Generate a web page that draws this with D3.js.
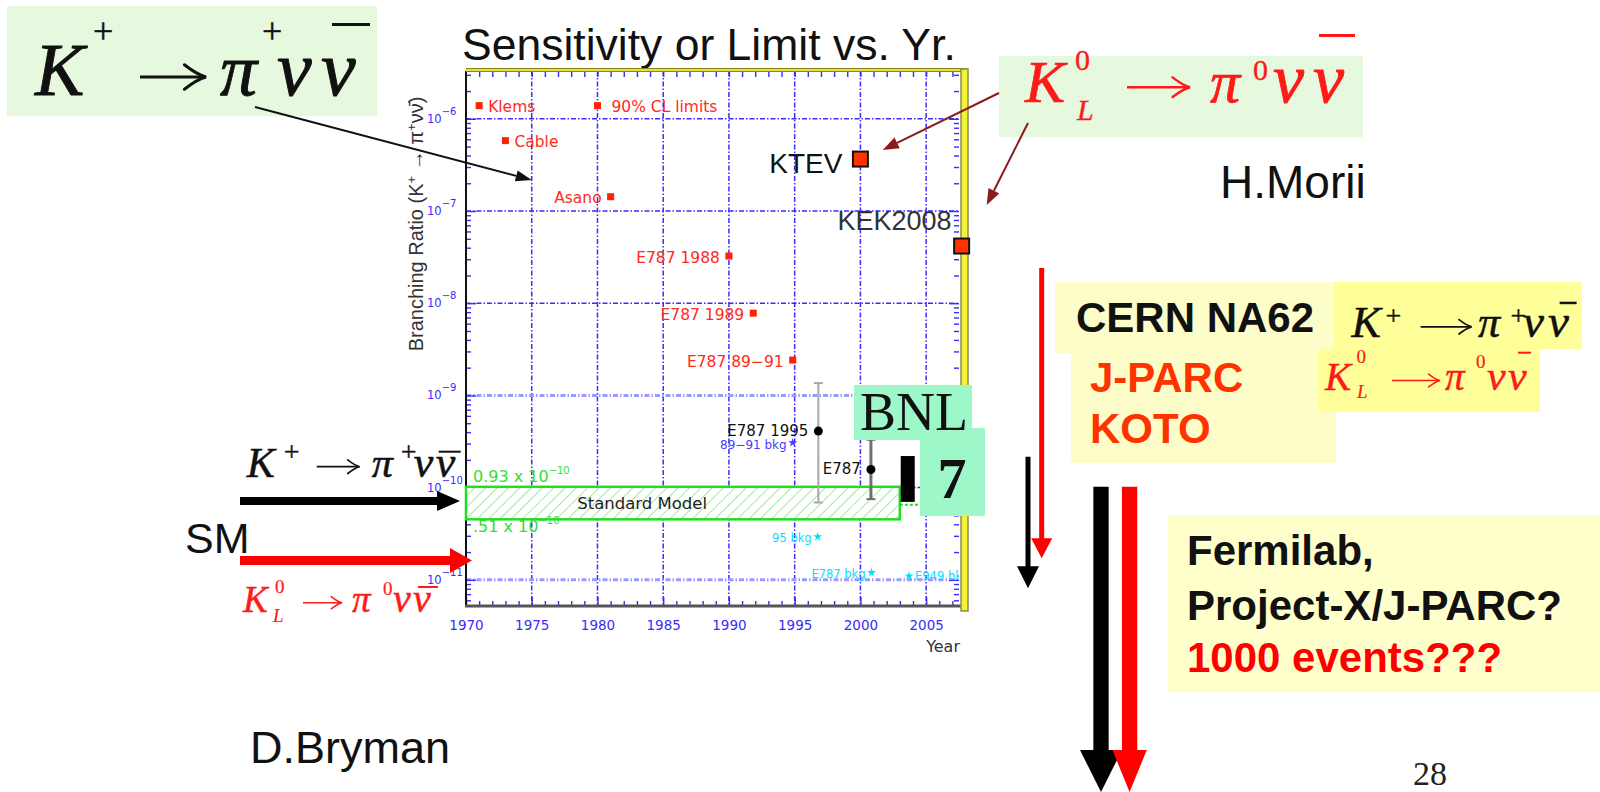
<!DOCTYPE html>
<html><head><meta charset="utf-8">
<script src="https://cdn.jsdelivr.net/npm/d3@7"></script>
<style>body{margin:0;background:#fff} svg{display:block}</style>
</head><body><svg id="c" width="1600" height="792"></svg>
<script>
// ---------------- data ----------------
const yearTicks = [1970, 1975, 1980, 1985, 1990, 1995, 2000, 2005];
const decadeExps = [-6, -7, -8, -9, -10, -11];

const limitNames  = ["Klems", "Cable", "Asano", "E787 1988", "E787 1989", "E787 89−91"];
const limitYears  = [1971.0, 1973.0, 1981.0, 1990.0, 1991.85, 1994.85];
const limitValues = [1.39e-6, 5.8e-7, 1.43e-7, 3.25e-8, 7.8e-9, 2.42e-9];
const limitSide   = ["right", "right", "left", "left", "left", "left"];
const legendText  = "90% CL limits";

const measNames  = ["E787 1995", "E787"];
const measYears  = [1996.8, 2000.8];
const measValues = [4.1e-10, 1.57e-10];
const measLow    = [6.9e-11, 7.5e-11];
const measHigh   = [1.36e-9, 3.3e-10];

const bkgNames  = ["89−91 bkg", "95 bkg", "E787 bkg", "E949 bkg"];
const bkgYears  = [1994.85, 1996.75, 2000.85, 2003.7];
const bkgValues = [3.07e-10, 2.93e-11, 1.2e-11, 1.1e-11];

const klNames  = ["KTEV", "KEK2008"];
const klYears  = [2000.0, 2007.7];
const klValues = [3.66e-7, 4.17e-8];

const smYears = [1970, 2003];
const smRange = [4.53e-11, 1.02e-10];
const smTopLabel = "0.93 x 10", smBottomLabel = ".51 x 10", smExp = "−10";
const smTail = [2003, 2004.7, 6.5e-11];

const bnlYear = 2003.6;
const bnlRange = [7.0e-11, 2.2e-10];

// ---------------- setup ----------------
const SANS = "'Liberation Sans', Arial, Helvetica, sans-serif";
const PLOT = "'DejaVu Sans', Verdana, sans-serif";
const SERIF = "'Liberation Serif', 'Times New Roman', serif";
const BLUE = "#3a2aff";

const svg = d3.select('#c');
svg.append('rect').attr('width', 1600).attr('height', 792).attr('fill', '#fff');

const x = d3.scaleLinear().domain([1970, 2007.5]).range([466, 959]);
const y = d3.scaleLog().domain([5.2e-12, 3.3e-6]).range([606, 71]);
const [X0, X1] = x.range();
const [Y0, Y1] = y.range();   // Y0 bottom, Y1 top

const defs = svg.append('defs');
const pat = defs.append('pattern').attr('id', 'hatch').attr('width', 8).attr('height', 8)
  .attr('patternUnits', 'userSpaceOnUse').attr('patternTransform', 'rotate(45)');
pat.append('rect').attr('width', 8).attr('height', 8).attr('fill', '#fff');
pat.append('line').attr('x1', 0).attr('y1', 0).attr('x2', 0).attr('y2', 8)
  .attr('stroke', '#6fdc6f').attr('stroke-width', 1.3);
defs.append('clipPath').attr('id', 'plotclip').append('rect')
  .attr('x', X0).attr('y', Y1).attr('width', X1 - X0).attr('height', Y0 - Y1);

// title
svg.append('text').attr('x', 462).attr('y', 60).attr('font-family', SANS)
  .attr('font-size', 44.5).attr('fill', '#111').text('Sensitivity or Limit vs. Yr.');

// ---------------- grid ----------------
const grid = svg.append('g');
grid.selectAll('line.v').data(yearTicks.slice(1)).join('line')
  .attr('x1', d => x(d)).attr('x2', d => x(d)).attr('y1', Y1).attr('y2', Y0)
  .attr('stroke', BLUE).attr('stroke-width', 1.5).attr('stroke-dasharray', '5,2,1.5,2');
grid.selectAll('line.h').data(decadeExps).join('line')
  .attr('x1', X0).attr('x2', X1).attr('y1', d => y(Math.pow(10, d))).attr('y2', d => y(Math.pow(10, d)))
  .attr('stroke', d => (d === -9 || d === -11) ? '#9a9aff' : BLUE)
  .attr('stroke-width', d => (d === -9 || d === -11) ? 3 : 1.5)
  .attr('stroke-dasharray', '5,2,1.5,2');

// ---------------- axes (ticks) ----------------
const minorYears = d3.range(1971, 2008).filter(d => d % 5 !== 0);
const logTicks = [];
for (let n = -12; n <= -6; n++) for (let k = 1; k <= 9; k++) {
  const v = k * Math.pow(10, n);
  if (v >= y.domain()[0] && v <= y.domain()[1]) logTicks.push(v);
}
const logMajor = logTicks.filter(v => Math.abs(Math.log10(v) - Math.round(Math.log10(v))) < 1e-9);
const logMinor = logTicks.filter(v => !logMajor.includes(v));

function styleAxis(g) {
  g.select('.domain').remove();
  g.selectAll('line').attr('stroke', BLUE).attr('stroke-width', 1.4);
  g.selectAll('text').remove();
}
svg.append('g').attr('transform', `translate(0,${Y0})`)
  .call(d3.axisBottom(x).tickValues(minorYears).tickSize(-5)).call(styleAxis);
svg.append('g').attr('transform', `translate(0,${Y0})`)
  .call(d3.axisBottom(x).tickValues(yearTicks).tickSize(-9)).call(styleAxis);
svg.append('g').attr('transform', `translate(0,${Y1})`)
  .call(d3.axisTop(x).tickValues(d3.range(1971, 2008)).tickSize(-6)).call(styleAxis);
svg.append('g').attr('transform', `translate(${X0},0)`)
  .call(d3.axisLeft(y).tickValues(logMinor).tickSize(-5)).call(styleAxis);
svg.append('g').attr('transform', `translate(${X0},0)`)
  .call(d3.axisLeft(y).tickValues(logMajor).tickSize(-10)).call(styleAxis);
svg.append('g').attr('transform', `translate(${X1},0)`)
  .call(d3.axisRight(y).tickValues(logMinor).tickSize(-5)).call(styleAxis);
svg.append('g').attr('transform', `translate(${X1},0)`)
  .call(d3.axisRight(y).tickValues(logMajor).tickSize(-10)).call(styleAxis);

// x tick labels
const xl = svg.append('g').attr('transform', `translate(0,${Y0})`)
  .call(d3.axisBottom(x).tickValues(yearTicks).tickSize(0).tickPadding(14).tickFormat(d3.format('d')));
xl.select('.domain').remove();
xl.selectAll('text').attr('font-family', PLOT).attr('font-size', 13.5).attr('fill', BLUE);

// y tick labels 10^n
decadeExps.forEach(e => {
  const t = svg.append('text').attr('x', 427).attr('y', y(Math.pow(10, e)) + 4)
    .attr('font-family', PLOT).attr('font-size', 11.5).attr('fill', BLUE);
  t.append('tspan').text('10');
  t.append('tspan').attr('dy', -8).attr('font-size', 10).text('−' + (-e));
});

// axis titles
const yt = svg.append('text').attr('transform', 'translate(423,224) rotate(-90)')
  .attr('text-anchor', 'middle').attr('font-family', SANS).attr('font-size', 20).attr('fill', '#333');
yt.append('tspan').text('Branching Ratio (K');
yt.append('tspan').attr('dy', -7).attr('font-size', 13).text('+');
yt.append('tspan').attr('dy', 7).text(' → π');
yt.append('tspan').attr('dy', -7).attr('font-size', 13).text('+');
yt.append('tspan').attr('dy', 7).text('νν̄)');
svg.append('text').attr('x', 960).attr('y', 652).attr('text-anchor', 'end')
  .attr('font-family', PLOT).attr('font-size', 16).attr('fill', '#333').text('Year');

// frame lines
svg.append('line').attr('x1', X0).attr('x2', X0).attr('y1', Y1).attr('y2', Y0 + 1)
  .attr('stroke', '#111').attr('stroke-width', 2);
svg.append('line').attr('x1', X0 - 1).attr('x2', X1 + 4).attr('y1', Y0).attr('y2', Y0)
  .attr('stroke', '#555').attr('stroke-width', 3);
svg.append('line').attr('x1', X0).attr('x2', X1 + 8).attr('y1', Y1 - 1).attr('y2', Y1 - 1)
  .attr('stroke', '#8a8a20').attr('stroke-width', 4);
svg.append('line').attr('x1', X0).attr('x2', X1 + 8).attr('y1', Y1 - 1).attr('y2', Y1 - 1)
  .attr('stroke', '#e2e23a').attr('stroke-width', 2);

// ---------------- plot content ----------------
const plot = svg.append('g');
const clipped = svg.append('g').attr('clip-path', 'url(#plotclip)');

// Standard Model band
plot.append('rect').attr('x', x(smYears[0])).attr('y', y(smRange[1]))
  .attr('width', x(smYears[1]) - x(smYears[0])).attr('height', y(smRange[0]) - y(smRange[1]))
  .attr('fill', 'url(#hatch)').attr('stroke', '#22dd22').attr('stroke-width', 2.5);
plot.append('line').attr('x1', x(smTail[0])).attr('x2', x(smTail[1]))
  .attr('y1', y(smTail[2])).attr('y2', y(smTail[2]))
  .attr('stroke', '#22dd22').attr('stroke-width', 2).attr('stroke-dasharray', '3,2');
plot.append('text').attr('x', x(1983.4)).attr('y', (y(smRange[0]) + y(smRange[1])) / 2 + 6)
  .attr('text-anchor', 'middle').attr('font-family', PLOT).attr('font-size', 16.5)
  .attr('fill', '#222').text('Standard Model');
[[smTopLabel, y(smRange[1]) - 5], [smBottomLabel, y(smRange[0]) + 12.5]].forEach(([s, yy]) => {
  const t = plot.append('text').attr('x', 473).attr('y', yy).attr('font-family', PLOT)
    .attr('font-size', 16).attr('fill', '#33dd33');
  t.append('tspan').text(s);
  t.append('tspan').attr('dy', -8).attr('font-size', 10).text(smExp);
});

// measurements with error bars
measNames.forEach((n, i) => {
  const cx = x(measYears[i]);
  const col = i === 0 ? '#a8a8a8' : '#707070';
  const w = i === 0 ? 2 : 3;
  plot.append('line').attr('x1', cx).attr('x2', cx).attr('y1', y(measLow[i])).attr('y2', y(measHigh[i]))
    .attr('stroke', col).attr('stroke-width', w);
  [measLow[i], measHigh[i]].forEach(v => plot.append('line').attr('x1', cx - 4.5).attr('x2', cx + 4.5)
    .attr('y1', y(v)).attr('y2', y(v)).attr('stroke', col).attr('stroke-width', 2));
  plot.append('circle').attr('cx', cx).attr('cy', y(measValues[i])).attr('r', 4.5).attr('fill', '#000');
  plot.append('text').attr('x', cx - 10).attr('y', y(measValues[i]) + 4.5).attr('text-anchor', 'end')
    .attr('font-family', PLOT).attr('font-size', 15).attr('fill', '#111').text(n);
});

// red limit squares
limitNames.forEach((n, i) => {
  const cx = x(limitYears[i]), cy = y(limitValues[i]);
  plot.append('rect').attr('x', cx - 3.5).attr('y', cy - 3.5).attr('width', 7).attr('height', 7).attr('fill', '#ff2200');
  plot.append('text').attr('x', limitSide[i] === 'right' ? cx + 9 : cx - 9).attr('y', cy + 6.5)
    .attr('text-anchor', limitSide[i] === 'right' ? 'start' : 'end')
    .attr('font-family', PLOT).attr('font-size', 15.5).attr('fill', '#ff2a1a').text(n);
});
// legend
{
  const cx = x(1980), cy = y(limitValues[0]);
  plot.append('rect').attr('x', cx - 3.5).attr('y', cy - 3.5).attr('width', 7).attr('height', 7).attr('fill', '#ff2200');
  plot.append('text').attr('x', cx + 14).attr('y', cy + 6.5).attr('font-family', PLOT)
    .attr('font-size', 15.5).attr('fill', '#ff2a1a').text(legendText);
}

// background estimates (stars)
const bkgColors = ['#4a3cff', '#00e0ff', '#00e0ff', '#00e0ff'];
const bkgSizes = [12, 11.5, 11.5, 11.5];
bkgNames.forEach((n, i) => {
  const cx = x(bkgYears[i]), cy = y(bkgValues[i]);
  clipped.append('path').attr('transform', `translate(${cx},${cy})`)
    .attr('d', d3.symbol().type(d3.symbolStar).size(26)()).attr('fill', bkgColors[i]);
  if (i < 3) {
    clipped.append('text').attr('x', cx - 6).attr('y', cy + (i === 0 ? 6 : 5)).attr('text-anchor', 'end')
      .attr('font-family', PLOT).attr('font-size', bkgSizes[i]).attr('fill', bkgColors[i]).text(n);
  } else {
    clipped.append('text').attr('x', cx + 6).attr('y', cy + 4)
      .attr('font-family', PLOT).attr('font-size', bkgSizes[i]).attr('fill', bkgColors[i]).text(n);
  }
});

// right yellow frame bar
svg.append('rect').attr('x', X1 + 2).attr('y', Y1 - 2).attr('width', 7).attr('height', Y0 - Y1 + 7)
  .attr('fill', '#f2f236').attr('stroke', '#8c8c50').attr('stroke-width', 1.5);

// KL limits (large squares)
klNames.forEach((n, i) => {
  const cx = x(klYears[i]), cy = y(klValues[i]);
  svg.append('rect').attr('x', cx - 7.5).attr('y', cy - 7.5).attr('width', 15).attr('height', 15)
    .attr('fill', '#ff3300').attr('stroke', '#111').attr('stroke-width', 2);
});
svg.append('text').attr('x', x(klYears[0]) - 18).attr('y', y(klValues[0]) + 14).attr('text-anchor', 'end')
  .attr('font-family', SANS).attr('font-size', 28).attr('fill', '#111').text(klNames[0]);
svg.append('text').attr('x', x(klYears[1]) - 10).attr('y', y(klValues[1]) - 16).attr('text-anchor', 'end')
  .attr('font-family', SANS).attr('font-size', 27).attr('fill', '#333').text(klNames[1]);

// BNL boxes
svg.append('rect').attr('x', 854).attr('y', 385).attr('width', 118).attr('height', 55).attr('fill', '#9ef7c9');
svg.append('rect').attr('x', 920).attr('y', 428).attr('width', 65).attr('height', 88).attr('fill', '#9ef7c9');
svg.append('text').attr('x', 860).attr('y', 430).attr('font-family', SERIF).attr('font-size', 54)
  .attr('fill', '#111').text('BNL');
svg.append('text').attr('x', 952).attr('y', 498).attr('text-anchor', 'middle').attr('font-family', SERIF)
  .attr('font-weight', 'bold').attr('font-size', 58).attr('fill', '#111').text('7');
// BNL E949 range bar
svg.append('rect').attr('x', x(bnlYear) - 7).attr('y', y(bnlRange[1])).attr('width', 14)
  .attr('height', y(bnlRange[0]) - y(bnlRange[1])).attr('fill', '#000');

// ---------------- annotations ----------------
// pieces: [text, dx, dy, fontSize, italic, arrowWidth]
function formula(x0, y0, color, pieces, bar) {
  const g = svg.append('g').attr('fill', color).attr('font-family', SERIF);
  pieces.forEach(([t, dx, dy, fs, it, aw]) => {
    if (t === '→') {
      const ax = x0 + dx, ay = y0 + dy - 0.25 * fs, sw = Math.max(1.4, fs * 0.042);
      g.append('line').attr('x1', ax).attr('x2', ax + aw - 2).attr('y1', ay).attr('y2', ay)
        .attr('stroke', color).attr('stroke-width', sw);
      const tx = ax + aw, hl = 0.3 * fs, hh = 0.17 * fs;
      g.append('path').attr('fill', 'none').attr('stroke', color).attr('stroke-width', sw)
        .attr('stroke-linecap', 'round')
        .attr('d', `M${tx - hl},${ay - hh}Q${tx - 0.12 * fs},${ay - 0.03 * fs} ${tx},${ay}Q${tx - 0.12 * fs},${ay + 0.03 * fs} ${tx - hl},${ay + hh}`);
    } else {
      g.append('text').attr('x', x0 + dx).attr('y', y0 + dy)
        .attr('font-size', fs).attr('font-style', it ? 'italic' : 'normal')
        .attr('stroke', color).attr('stroke-width', fs * 0.012).text(t);
    }
  });
  g.append('rect').attr('x', x0 + bar[0]).attr('y', y0 + bar[2]).attr('width', bar[1] - bar[0]).attr('height', bar[3]);
}
function hArrow(x1, x2, cy, sw, hw, hl, color) {
  svg.append('path').attr('fill', color).attr('d',
    `M${x1},${cy - sw / 2}L${x2 - hl},${cy - sw / 2}L${x2 - hl},${cy - hw / 2}L${x2},${cy}L${x2 - hl},${cy + hw / 2}L${x2 - hl},${cy + sw / 2}L${x1},${cy + sw / 2}Z`);
}
function vArrow(cx, y1, y2, sw, hw, hl, color) {
  svg.append('path').attr('fill', color).attr('d',
    `M${cx - sw / 2},${y1}L${cx - sw / 2},${y2 - hl}L${cx - hw / 2},${y2 - hl}L${cx},${y2}L${cx + hw / 2},${y2 - hl}L${cx + sw / 2},${y2 - hl}L${cx + sw / 2},${y1}Z`);
}
function lineArrow(x1, y1, x2, y2, color, w, hl, hw) {
  const a = Math.atan2(y2 - y1, x2 - x1), c = Math.cos(a), s = Math.sin(a);
  const bx = x2 - hl * c, by = y2 - hl * s;
  svg.append('line').attr('x1', x1).attr('y1', y1).attr('x2', bx).attr('y2', by)
    .attr('stroke', color).attr('stroke-width', w);
  svg.append('path').attr('fill', color).attr('d',
    `M${x2},${y2}L${bx - hw / 2 * s},${by + hw / 2 * c}L${bx + hw / 2 * s},${by - hw / 2 * c}Z`);
}

// top-left K+ box
svg.append('rect').attr('x', 7).attr('y', 6).attr('width', 370).attr('height', 110).attr('fill', '#e6f8de');
formula(35, 95, '#111', [
  ['K', 0, 0, 74, 1], ['+', 58, -52, 36, 0], ['→', 105, 0, 72, 0, 66], ['π', 185, 0, 74, 1],
  ['+', 227, -52, 36, 0], ['ν', 242, 0, 78, 1], ['ν', 286, 0, 78, 1]], [297, 335, -72, 3]);
lineArrow(255, 107, x(1975), y(2.17e-7), '#111', 2, 16, 11);

// KL box top right
svg.append('rect').attr('x', 999).attr('y', 56).attr('width', 364).attr('height', 81).attr('fill', '#e6f8de');
formula(1025, 101.7, '#ff1a1a', [
  ['K', 0, 0, 60, 1], ['0', 50, -31.7, 30, 0], ['L', 52, 18, 30, 1], ['→', 102, 0, 58, 0, 63],
  ['π', 185, 0, 60, 1], ['0', 228, -21.7, 30, 0], ['ν', 248, 0, 70, 1], ['ν', 288, 0, 70, 1]], [294, 330, -67.7, 3]);
lineArrow(999, 93, x(2001.7), y(4.6e-7), '#8b1a1a', 2, 16, 12);
lineArrow(1028, 123, 986.7, 205, '#8b1a1a', 2, 16, 12);

svg.append('text').attr('x', 1220).attr('y', 198).attr('font-family', SANS).attr('font-size', 46)
  .attr('fill', '#111').text('H.Morii');

// left SM annotation
formula(246.7, 476.7, '#111', [
  ['K', 0, 0, 42, 1], ['+', 37, -16, 28, 0], ['→', 70, 0, 40, 0, 43], ['π', 125, 0, 42, 1],
  ['+', 154, -16, 28, 0], ['ν', 167, 0, 44, 1], ['ν', 189, 0, 44, 1]], [192, 214, -26, 2]);
hArrow(240, 460, 501, 8, 20, 23, '#000');
svg.append('text').attr('x', 185).attr('y', 553).attr('font-family', SANS).attr('font-size', 43)
  .attr('fill', '#111').text('SM');
hArrow(240, 472, 560.5, 9, 25, 22, '#ff0000');
formula(243, 611.7, '#ff1a1a', [
  ['K', 0, 0, 37, 1], ['0', 32, -18.7, 19, 0], ['L', 30, 10, 19, 1], ['→', 60, 0, 36, 0, 39],
  ['π', 109, 0, 37, 1], ['0', 140, -16.7, 19, 0], ['ν', 150, 0, 40, 1], ['ν', 170, 0, 40, 1]], [175, 195, -25.7, 2]);

svg.append('text').attr('x', 250).attr('y', 763).attr('font-family', SANS).attr('font-size', 45)
  .attr('fill', '#111').text('D.Bryman');

// right side: future experiments
svg.append('rect').attr('x', 1055).attr('y', 282).attr('width', 279).attr('height', 71).attr('fill', '#fdfdc9');
svg.append('rect').attr('x', 1071).attr('y', 352).attr('width', 265).attr('height', 111).attr('fill', '#fdfdc9');
svg.append('rect').attr('x', 1334).attr('y', 282).attr('width', 248).attr('height', 67).attr('fill', '#ffff99');
svg.append('rect').attr('x', 1318).attr('y', 349).attr('width', 222).attr('height', 63).attr('fill', '#ffff99');
svg.append('text').attr('x', 1076).attr('y', 331.7).attr('font-family', SANS).attr('font-weight', 'bold')
  .attr('font-size', 42).attr('fill', '#111').text('CERN NA62');
svg.append('text').attr('x', 1090).attr('y', 391.7).attr('font-family', SANS).attr('font-weight', 'bold')
  .attr('font-size', 42).attr('fill', '#ff3300').text('J-PARC');
svg.append('text').attr('x', 1090).attr('y', 443.3).attr('font-family', SANS).attr('font-weight', 'bold')
  .attr('font-size', 42).attr('fill', '#ff3300').text('KOTO');
formula(1351.6, 337.3, '#111', [
  ['K', 0, 0, 44, 1], ['+', 34, -12, 28, 0], ['→', 69, 0, 42, 0, 51], ['π', 126.4, 0, 44, 1],
  ['+', 159, -12, 28, 0], ['ν', 171.4, 0, 47, 1], ['ν', 196.4, 0, 47, 1]], [208, 225, -35.6, 2.5]);
formula(1325, 390, '#ff1a1a', [
  ['K', 0, 0, 39, 1], ['0', 31.6, -27, 19, 0], ['L', 32, 8, 19, 1], ['→', 67, 0, 38, 0, 48],
  ['π', 120, 0, 39, 1], ['0', 151, -22, 19, 0], ['ν', 162, 0, 42, 1], ['ν', 183, 0, 42, 1]], [193, 206, -38.3, 2]);

vArrow(1041.7, 268, 558.3, 5, 21, 20, '#ff0000');
vArrow(1028, 456.7, 588.3, 5, 22, 22, '#000');
vArrow(1101, 486.7, 792, 15.3, 42, 42, '#000');
vArrow(1129.6, 486.7, 792, 15.3, 34.4, 42, '#ff0000');

svg.append('rect').attr('x', 1168).attr('y', 515).attr('width', 432).attr('height', 177).attr('fill', '#ffffcc');
[['Fermilab,', 565, '#111'], ['Project-X/J-PARC?', 620, '#111'], ['1000 events???', 671.7, '#ff0000']]
  .forEach(([s, yy, c]) => svg.append('text').attr('x', 1187).attr('y', yy).attr('font-family', SANS)
    .attr('font-weight', 'bold').attr('font-size', 42).attr('fill', c).text(s));

svg.append('text').attr('x', 1413).attr('y', 785).attr('font-family', SERIF).attr('font-size', 34)
  .attr('fill', '#222').text('28');
</script></body></html>
